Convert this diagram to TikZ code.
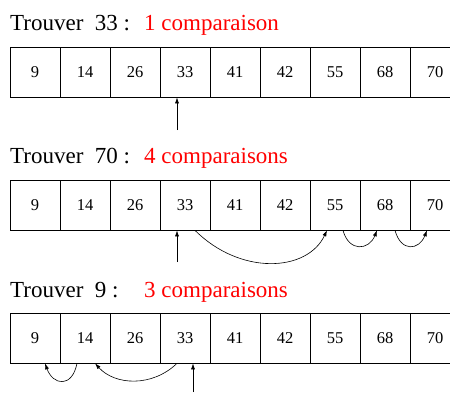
\documentclass[tikz,border=0pt]{standalone}
\usepackage{fontspec}
\setmainfont{Liberation Serif}
\usetikzlibrary{positioning, arrows.meta}

\begin{document}
\begin{tikzpicture}[
  x=1pt, y=-1pt,
  cell/.style={draw, line width=0.7pt, minimum width=50pt, minimum height=50pt,
               inner sep=0pt, font=\fontsize{16.5}{18}\selectfont},
  title/.style={anchor=base west, inner sep=0pt, font=\fontsize{23}{26}\selectfont},
  count/.style={title, text=red},
  arrow/.style={-{Latex[length=6pt, width=4pt]}, line width=0.6pt},
]
\useasboundingbox (0,0) rectangle (450,392);

% the three rows of sorted values
\foreach \row/\y in {1/72, 2/205, 3/338}
  \foreach \v [count=\i] in {9,14,26,33,41,42,55,68,70}
    \node[cell] (r\row-\i) at ({50*\i-15}, \y) {\v};

\node[title] (find1) at (10,30) {Trouver\ \ 33 :};
\node[count] (cmp1) at (144,30) {1 comparaison};
\node[title] (find2) at (10,163) {Trouver\ \ 70 :};
\node[count] (cmp2) at (144,163) {4 comparaisons};
\node[title] (find3) at (10,297) {Trouver\ \ 9 :};
\node[count] (cmp3) at (144,297) {3 comparaisons};

% row 1
\coordinate (start1) at (177,130);
\draw[arrow] (start1) -- ([xshift=-8pt]r1-4.south);

% row 2
\coordinate (start2) at (177,262);
\draw[arrow] (start2) -- ([xshift=-8pt]r2-4.south);
\draw[arrow] ([xshift=10pt]r2-4.south) .. controls +(45,45) and +(-20,42) .. ([xshift=-8pt]r2-7.south);
\draw[arrow] ([xshift=8pt]r2-7.south) .. controls +(6,22) and +(-8,20) .. ([xshift=-8pt]r2-8.south);
\draw[arrow] ([xshift=10pt]r2-8.south) .. controls +(6,22) and +(-8,20) .. ([xshift=-8pt]r2-9.south);

% row 3
\coordinate (start3) at (193,392);
\draw[arrow] (start3) -- ([xshift=8pt]r3-4.south);
\draw[arrow] ([xshift=-8pt]r3-4.south) .. controls +(-25,24) and +(20,22) .. ([xshift=10pt]r3-2.south);
\draw[arrow] ([xshift=-8pt]r3-2.south) .. controls +(-5,25) and +(8,22) .. ([xshift=10pt]r3-1.south);
\end{tikzpicture}
\end{document}
